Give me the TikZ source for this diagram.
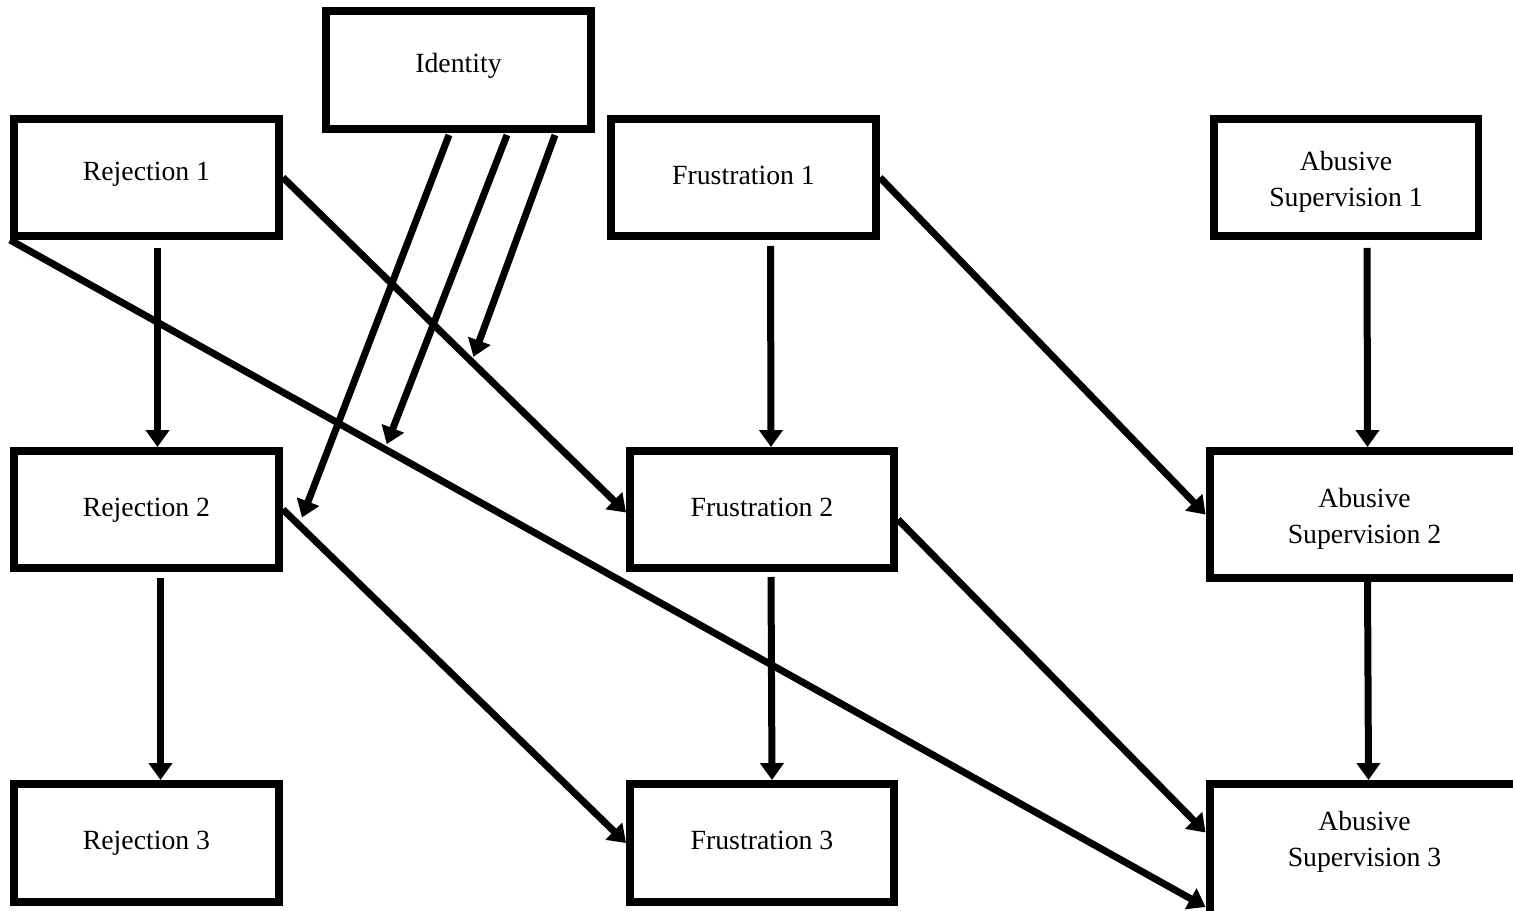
\documentclass[tikz,border=0pt]{standalone}
\usepackage{fontspec}
\setmainfont{Liberation Serif}
\usetikzlibrary{arrows.meta, calc}

\begin{document}
\begin{tikzpicture}[x=0.02cm, y=-0.02cm,
    box/.style={draw, line width=0.16cm, minimum width=5.3cm, minimum height=2.34cm, inner sep=0pt, align=center, font=\fontsize{15.8}{20.4}\selectfont},
    onerow/.style={text height=11pt, text depth=3.5pt},
    wide/.style={minimum width=6.2cm},
    arr/.style={-{Triangle[length=0.34cm, width=0.46cm]}, line width=0.14cm}]
    \path[use as bounding box, clip] (0,0) rectangle (1513,910);
    \node[box, onerow, minimum height=2.36cm, text depth=8pt] (iden) at (458.5,70) {Identity};
    \node[box, onerow, text depth=8pt] (rej1) at (146.5,177.5) {Rejection 1};
    \node[box, onerow] (fru1) at (743.5,177.5) {Frustration 1};
    \node[box, text height=36pt] (abs1) at (1346,177.5) {Abusive\\Supervision 1};
    \node[box, onerow] (rej2) at (146.5,509.5) {Rejection 2};
    \node[box, onerow, minimum width=5.28cm] (fru2) at (762,509.5) {Frustration 2};
    \node[box, wide, minimum height=2.54cm, text height=36pt] (abs2) at (1364.5,514.5) {Abusive\\Supervision 2};
    \node[box, onerow, minimum height=2.36cm] (rej3) at (146.5,843) {Rejection 3};
    \node[box, onerow, minimum width=5.28cm, minimum height=2.36cm] (fru3) at (762,843) {Frustration 3};
    \node[box, wide, minimum height=2.62cm, text depth=12pt] (abs3) at (1364.5,849.5) {Abusive\\Supervision 3};
    \draw[arr] ($(rej1.south)+(11,8)$) -- ($(rej2.north)+(11,0)$);
    \draw[arr] ($(rej2.south)+(14,6)$) -- ($(rej3.north)+(14,0)$);
    \draw[arr] ($(fru1.south)+(27,6)$) -- ($(fru2.north)+(9,0)$);
    \draw[arr] ($(fru2.south)+(9,5)$) -- ($(fru3.north)+(10,0)$);
    \draw[arr] ($(abs1.south)+(21,8)$) -- ($(abs2.north)+(3,0)$);
    \draw[arr] ($(abs2.south)+(3,0)$) -- ($(abs3.north)+(4,0)$);
    \draw[arr] (rej1.east) -- ($(fru2.west)+(0,3)$) coordinate[pos=0.55] (rej1fru2);
    \draw[arr] (rej1.south west) -- ($(abs3.south west)+(0,-12)$) coordinate[pos=0.3135] (rej1abs3);
    \draw[arr] (rej2.east) -- (fru3.west);
    \draw[arr] (fru1.east) -- (abs2.west);
    \draw[arr] ($(fru2.east)+(0,10)$) -- ($(abs3.west)+(0,-17)$);
    \draw[arr] ($(iden.south)+(-9.5,2)$) -- ($(rej2.east)+(19,8)$);
    \draw[arr, shorten >=3pt] ($(iden.south)+(48.5,2)$) -- (rej1abs3);
    \draw[arr, shorten >=3pt] ($(iden.south)+(96.5,2)$) -- (rej1fru2);
\end{tikzpicture}
\end{document}
